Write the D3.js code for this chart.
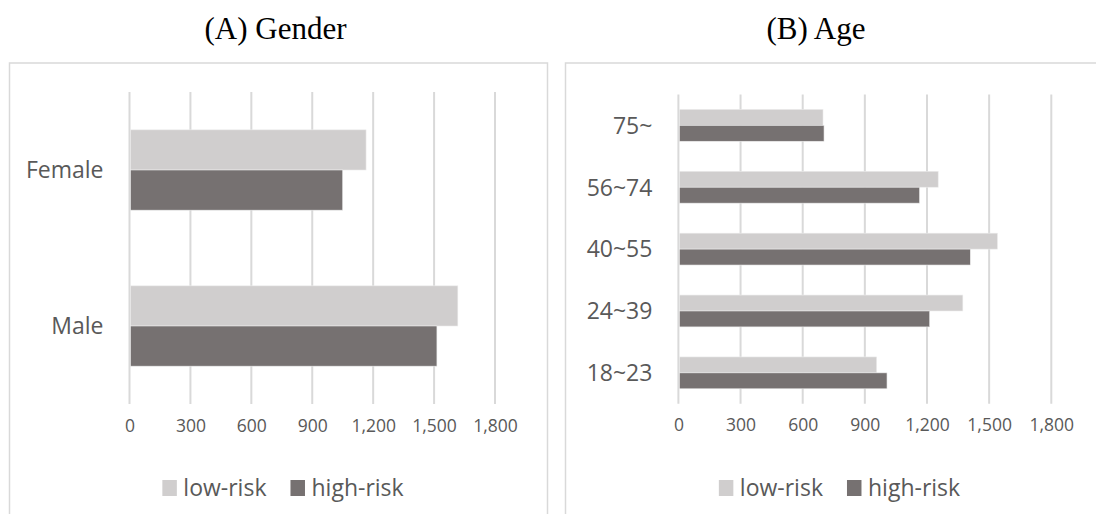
<!DOCTYPE html>
<html>
<head>
<meta charset="utf-8">
<script src="https://cdn.jsdelivr.net/npm/d3@7"></script>
<style>
  body { margin: 0; background: #fff; }
  svg text { font-family: "Open Sans", "Noto Sans", sans-serif; }
  .title { font-family: "Liberation Serif", "Times New Roman", serif !important; }
</style>
</head>
<body>
<div id="chart"></div>
<script>
// series names and colours
const seriesNames = ["low-risk", "high-risk"];
const seriesColors = ["#d0cece", "#767171"];
const xTicks = [0, 300, 600, 900, 1200, 1500, 1800];

// (A) Gender, top to bottom
const genderCategories = ["Female", "Male"];
const genderLow = [1165, 1617];
const genderHigh = [1050, 1514];

// (B) Age, top to bottom
const ageCategories = ["75~", "56~74", "40~55", "24~39", "18~23"];
const ageLow = [698, 1254, 1540, 1373, 957];
const ageHigh = [703, 1164, 1409, 1213, 1007];

const width = 1096, height = 514;
const svg = d3.select("#chart").append("svg")
  .attr("width", width)
  .attr("height", height);

function drawPanel(opts) {
  const { title, titleX, box, plot, categories, low, high, legendCenter } = opts;
  const g = svg.append("g");

  // panel frame (bottom runs off the page)
  g.append("rect")
    .attr("x", box.x).attr("y", box.y)
    .attr("width", box.w).attr("height", 520)
    .attr("fill", "none")
    .attr("stroke", "#d9d9d9")
    .attr("stroke-width", 1.5);

  g.append("text")
    .attr("class", "title")
    .attr("x", titleX).attr("y", 39)
    .attr("text-anchor", "middle")
    .style("font-size", "31px")
    .attr("fill", "#000")
    .text(title);

  const x = d3.scaleLinear().domain([0, 1800]).range([plot.x0, plot.x1]);
  const y = d3.scaleBand().domain(categories)
    .range([plot.y0, plot.y1])
    .paddingInner(0.485).paddingOuter(0.2425);
  const ySub = d3.scaleBand().domain(seriesNames).range([0, y.bandwidth()]);

  // gridlines
  g.append("g").selectAll("line")
    .data(xTicks)
    .join("line")
    .attr("x1", d => x(d)).attr("x2", d => x(d))
    .attr("y1", plot.y0).attr("y2", plot.y1)
    .attr("stroke", "#d9d9d9")
    .attr("stroke-width", 2);

  // tick labels
  const xAxis = g.append("g")
    .attr("transform", `translate(0,${plot.y1})`)
    .call(d3.axisBottom(x).tickValues(xTicks).tickFormat(d3.format(",")).tickSize(0).tickPadding(0));
  xAxis.select(".domain").remove();
  xAxis.selectAll("text")
    .attr("y", 0)
    .attr("dy", 27.5)
    .attr("fill", "#595959")
    .style("font-size", "17.5px");

  // bars
  const rows = categories.map((c, i) => ({ cat: c, values: [low[i], high[i]] }));
  const groups = g.append("g").selectAll("g")
    .data(rows)
    .join("g")
    .attr("transform", d => `translate(0,${y(d.cat)})`);
  groups.selectAll("rect")
    .data(d => d.values.map((v, j) => ({ key: seriesNames[j], v, j })))
    .join("rect")
    .attr("x", x(0) + 1)
    .attr("y", d => ySub(d.key))
    .attr("width", d => x(d.v) - x(0) - 1)
    .attr("height", ySub.bandwidth())
    .attr("fill", d => seriesColors[d.j])
    .attr("stroke", "#ececec")
    .attr("stroke-width", 0.6);

  // category labels
  g.append("g").selectAll("text")
    .data(categories)
    .join("text")
    .attr("x", plot.x0 - 26)
    .attr("y", d => y(d) + y.bandwidth() / 2)
    .attr("dy", "0.36em")
    .attr("text-anchor", "end")
    .attr("fill", "#595959")
    .style("font-size", "23px")
    .text(d => d);

  // legend
  const leg = g.append("g").attr("transform", "translate(0,488)");
  let cx = 0;
  seriesNames.forEach((name, i) => {
    const item = leg.append("g").attr("transform", `translate(${cx},0)`);
    item.append("rect")
      .attr("x", 0).attr("y", -8)
      .attr("width", 14.5).attr("height", 16)
      .attr("fill", seriesColors[i]);
    const t = item.append("text")
      .attr("x", 21).attr("y", 0)
      .attr("dy", "0.34em")
      .attr("fill", "#595959")
      .style("font-size", "23px")
      .text(name);
    cx += 21 + t.node().getComputedTextLength() + 24;
  });
  const legW = cx - 24;
  leg.attr("transform", `translate(${legendCenter - legW / 2},488)`);
}

drawPanel({
  title: "(A) Gender",
  titleX: 275.5,
  box: { x: 9.5, y: 63, w: 538 },
  plot: { x0: 129.5, x1: 495, y0: 92, y1: 404 },
  categories: genderCategories,
  low: genderLow,
  high: genderHigh,
  legendCenter: 283
});

drawPanel({
  title: "(B) Age",
  titleX: 816,
  box: { x: 565.5, y: 63, w: 545 },
  plot: { x0: 678.4, x1: 1051.3, y0: 94.4, y1: 403.8 },
  categories: ageCategories,
  low: ageLow,
  high: ageHigh,
  legendCenter: 839.5
});
</script>
</body>
</html>
